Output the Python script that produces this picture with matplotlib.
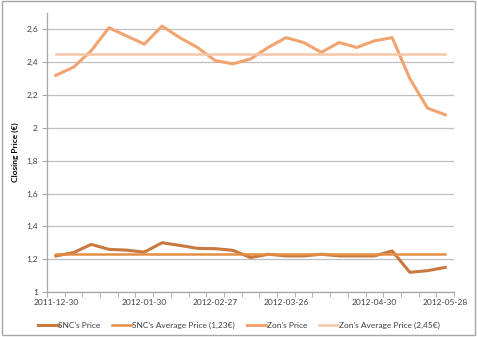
import matplotlib
matplotlib.use("Agg")
import matplotlib.pyplot as plt
from matplotlib.patches import Rectangle
import numpy as np

dates = ["2011-12-30", "2012-01-02", "2012-01-09", "2012-01-16", "2012-01-23",
         "2012-01-30", "2012-02-06", "2012-02-13", "2012-02-20", "2012-02-27",
         "2012-03-05", "2012-03-12", "2012-03-19", "2012-03-26", "2012-04-02",
         "2012-04-09", "2012-04-16", "2012-04-23", "2012-04-30", "2012-05-07",
         "2012-05-14", "2012-05-21", "2012-05-28"]
snc_price = [1.22, 1.24, 1.29, 1.26, 1.255, 1.243, 1.30, 1.284, 1.266, 1.264,
             1.254, 1.21, 1.23, 1.22, 1.22, 1.23, 1.22, 1.22, 1.22, 1.25,
             1.12, 1.13, 1.15]
zon_price = [2.32, 2.37, 2.47, 2.61, 2.56, 2.51, 2.62, 2.55, 2.49, 2.41,
             2.39, 2.42, 2.49, 2.55, 2.52, 2.46, 2.52, 2.49, 2.53, 2.55,
             2.30, 2.12, 2.08]
snc_avg = 1.23
zon_avg = 2.45
shown_labels = ["2011-12-30", "2012-01-30", "2012-02-27", "2012-03-26", "2012-04-30", "2012-05-28"]
y_ticks = [1.0, 1.2, 1.4, 1.6, 1.8, 2.0, 2.2, 2.4, 2.6]

plt.rcParams['font.family'] = ['Lato', 'DejaVu Sans']

fig = plt.figure(figsize=(4.78, 3.37), dpi=100)
fig.patches.append(Rectangle((0.004, 0.006), 0.99, 0.99, transform=fig.transFigure,
                             fill=False, edgecolor='#A6A6A6', lw=1.0))
ax = fig.add_axes([0.0983, 0.1335, 0.8517, 0.828])

x = np.arange(len(dates))
c_snc = '#C9783F'
c_snc_avg = '#E38E45'
c_zon = '#F2A470'
c_zon_avg = '#F8C6A6'

ax.plot(x, snc_price, color=c_snc, lw=2.2, label="SNC's Price", solid_joinstyle='round')
ax.plot(x, [snc_avg] * len(x), color=c_snc_avg, lw=1.8, label="SNC's Average Price (1,23€)")
ax.plot(x, zon_price, color=c_zon, lw=2.2, label="Zon's Price", solid_joinstyle='round')
ax.plot(x, [zon_avg] * len(x), color=c_zon_avg, lw=1.8, label="Zon's Average Price (2,45€)")

ax.set_xlim(-0.5, len(x) - 0.5)
ax.set_ylim(1.0, 2.7)
ax.set_yticks(y_ticks)
ax.set_yticklabels([("%g" % v).replace('.', ',') for v in y_ticks], fontsize=6, color='#404040')
ax.yaxis.grid(True, color='#BFBFBF', lw=0.9)
ax.set_axisbelow(True)

idx = [dates.index(d) for d in shown_labels]
ax.set_xticks(idx)
ax.set_xticklabels(shown_labels, fontsize=6, color='#404040')
ax.set_xticks(np.arange(-0.5, len(x), 1.0), minor=True)
ax.tick_params(axis='x', which='major', length=0, pad=5)
ax.tick_params(axis='x', which='minor', length=3.5, color='#A6A6A6', direction='out')
ax.tick_params(axis='y', length=3.5, color='#A6A6A6', pad=3)

for s in ['top', 'right']:
    ax.spines[s].set_visible(False)
for s in ['left', 'bottom']:
    ax.spines[s].set_color('#A6A6A6')
    ax.spines[s].set_linewidth(0.9)

ax.set_ylabel("Closing Price (€)", fontsize=6, fontweight='bold', labelpad=5)

fig.legend(loc='center', bbox_to_anchor=(0.5, 0.035), ncol=4, frameon=False,
           fontsize=6, handlelength=2.3, handletextpad=0.1, columnspacing=1.4,
           labelcolor='#404040')

fig.savefig("out.png", dpi=100)
